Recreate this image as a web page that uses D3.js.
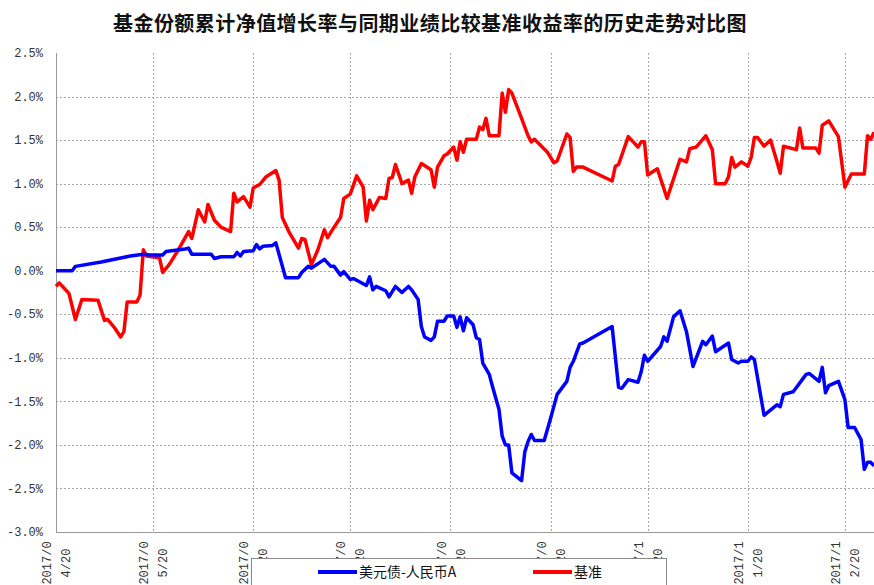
<!DOCTYPE html>
<html><head><meta charset="utf-8">
<script src="https://cdn.jsdelivr.net/npm/d3@7"></script>
<style>
html,body{margin:0;padding:0;background:#fff;}
svg{display:block;}
</style></head>
<body>
<script>
const titleText = "基金份额累计净值增长率与同期业绩比较基准收益率的历史走势对比图";
const seriesNames = ["美元债-人民币A", "基准"];
const seriesColors = ["#0000ff", "#ff0000"];
const yTicks = [2.5, 2.0, 1.5, 1.0, 0.5, 0.0, -0.5, -1.0, -1.5, -2.0, -2.5, -3.0];
const xTickDates = ["2017-04-20","2017-05-20","2017-06-20","2017-07-20","2017-08-20","2017-09-20","2017-10-20","2017-11-20","2017-12-20"];
const xTickLines = [["2017/0","4/20"],["2017/0","5/20"],["2017/0","6/20"],["2017/0","7/20"],["2017/0","8/20"],["2017/0","9/20"],["2017/1","0/20"],["2017/1","1/20"],["2017/1","2/20"]];
const xDomain = ["2017-04-20", "2017-12-29"];

const fundDates = ["04-20","04-25","04-26","05-04","05-13","05-17","05-19","05-23","05-24","05-30","05-31","06-01","06-07","06-08","06-10","06-14","06-15","06-16","06-17","06-20","06-21","06-22","06-23","06-26","06-27","06-30","07-04","07-05","07-07","07-08","07-12","07-14","07-15","07-17","07-18","07-20","07-21","07-25","07-26","07-27","07-28","07-31","08-01","08-03","08-05","08-07","08-08","08-10","08-11","08-12","08-14","08-15","08-16","08-18","08-19","08-21","08-22","08-23","08-24","08-25","08-27","08-28","08-29","08-30","09-01","09-02","09-04","09-05","09-06","09-07","09-08","09-11","09-12","09-13","09-14","09-15","09-18","09-20","09-22","09-25","09-26","09-27","09-29","09-30","10-09","10-11","10-12","10-14","10-17","10-18","10-19","10-20","10-24","10-25","10-26","10-28","10-30","11-01","11-03","11-06","11-07","11-09","11-10","11-14","11-15","11-17","11-18","11-20","11-21","11-22","11-25","11-28","11-29","11-30","12-01","12-04","12-05","12-08","12-09","12-12","12-13","12-14","12-15","12-18","12-20","12-21","12-23","12-25","12-26","12-27","12-28","12-29"];
const fundValues = [0.00,0.00,0.05,0.10,0.17,0.19,0.18,0.18,0.22,0.25,0.26,0.19,0.19,0.14,0.16,0.16,0.21,0.17,0.22,0.23,0.30,0.25,0.28,0.29,0.32,-0.08,-0.08,-0.02,0.05,0.03,0.13,0.05,0.05,-0.05,-0.01,-0.10,-0.09,-0.17,-0.07,-0.22,-0.18,-0.23,-0.30,-0.18,-0.25,-0.18,-0.22,-0.33,-0.64,-0.76,-0.80,-0.76,-0.58,-0.58,-0.52,-0.52,-0.65,-0.53,-0.69,-0.54,-0.62,-0.77,-0.79,-1.06,-1.19,-1.33,-1.59,-1.90,-2.00,-2.00,-2.32,-2.41,-2.08,-1.96,-1.88,-1.95,-1.95,-1.69,-1.42,-1.27,-1.11,-1.04,-0.84,-0.83,-0.64,-1.34,-1.35,-1.25,-1.28,-1.16,-0.97,-1.04,-0.87,-0.76,-0.81,-0.53,-0.46,-0.70,-1.10,-0.81,-0.85,-0.75,-0.93,-0.83,-1.02,-1.06,-1.04,-1.04,-0.99,-1.02,-1.66,-1.57,-1.54,-1.56,-1.42,-1.39,-1.34,-1.19,-1.18,-1.27,-1.11,-1.40,-1.32,-1.27,-1.48,-1.80,-1.80,-1.94,-2.28,-2.20,-2.20,-2.24];

const benchDates = ["04-20","04-21","04-24","04-26","04-28","05-03","05-05","05-06","05-08","05-10","05-11","05-12","05-15","05-16","05-17","05-18","05-22","05-23","05-25","05-28","05-31","06-01","06-03","06-05","06-06","06-08","06-10","06-13","06-14","06-15","06-17","06-19","06-20","06-22","06-24","06-27","06-28","06-29","07-01","07-04","07-05","07-06","07-08","07-10","07-12","07-13","07-15","07-17","07-18","07-20","07-22","07-24","07-25","07-26","07-27","07-29","07-31","08-01","08-02","08-03","08-05","08-07","08-08","08-09","08-11","08-14","08-15","08-16","08-18","08-19","08-21","08-22","08-23","08-24","08-25","08-28","08-29","08-30","08-31","09-01","09-04","09-05","09-06","09-07","09-08","09-11","09-13","09-14","09-15","09-19","09-21","09-22","09-25","09-26","09-27","09-28","09-30","10-09","10-10","10-11","10-14","10-17","10-18","10-19","10-20","10-23","10-26","10-30","11-01","11-02","11-04","11-07","11-09","11-10","11-13","11-14","11-15","11-16","11-18","11-20","11-21","11-22","11-23","11-25","11-27","11-29","11-30","12-01","12-05","12-06","12-07","12-11","12-12","12-13","12-15","12-18","12-20","12-22","12-26","12-27","12-28","12-29"];
const benchValues = [-0.18,-0.14,-0.26,-0.56,-0.33,-0.34,-0.57,-0.56,-0.65,-0.76,-0.70,-0.36,-0.36,-0.28,0.24,0.17,0.15,-0.02,0.07,0.25,0.45,0.37,0.70,0.56,0.76,0.58,0.50,0.45,0.89,0.79,0.85,0.73,0.95,0.99,1.08,1.15,1.04,0.61,0.45,0.26,0.37,0.36,0.07,0.24,0.47,0.38,0.50,0.61,0.83,0.88,1.09,0.96,0.57,0.81,0.70,0.84,0.83,1.06,1.07,1.22,1.00,1.04,0.89,1.08,1.23,1.16,0.96,1.19,1.32,1.34,1.42,1.27,1.48,1.36,1.51,1.51,1.65,1.62,1.75,1.55,1.55,2.04,1.82,2.08,2.04,1.75,1.55,1.48,1.51,1.36,1.24,1.26,1.57,1.53,1.14,1.19,1.19,1.03,1.20,1.22,1.54,1.42,1.48,1.48,1.10,1.17,0.83,1.28,1.25,1.40,1.42,1.55,1.39,1.00,1.00,1.08,1.30,1.19,1.25,1.20,1.30,1.53,1.53,1.43,1.50,1.25,1.12,1.43,1.39,1.64,1.41,1.41,1.35,1.67,1.72,1.54,0.96,1.11,1.11,1.55,1.51,1.59];

const W = 874, H = 585;
const M = {left: 56, right: 874, top: 53, bottom: 532};
const parse = d3.timeParse("%Y-%m-%d");

const svg = d3.select("body").append("svg").attr("width", W).attr("height", H);

const x = d3.scaleTime().domain(xDomain.map(parse)).range([M.left, M.right]);
const y = d3.scaleLinear().domain([-3.0, 2.5]).range([M.bottom, M.top]);

const monoFont = "'Liberation Mono','DejaVu Sans Mono',monospace";
const cjkFont = "'Noto Sans CJK SC','Noto Sans',sans-serif";

// title
svg.append("text").attr("x", 113).attr("y", 31)
  .attr("font-family", cjkFont).attr("font-weight", "bold")
  .attr("font-size", 20).attr("letter-spacing", "0.45px")
  .attr("fill", "#111").text(titleText);

// horizontal gridlines
const gridColor = "#a8a8a8";
svg.append("g").selectAll("line").data(yTicks.filter(t => t !== 2.5 && t !== -3.0)).join("line")
  .attr("x1", M.left).attr("x2", M.right)
  .attr("y1", d => Math.round(y(d)) + 0.5).attr("y2", d => Math.round(y(d)) + 0.5)
  .attr("stroke", gridColor).attr("stroke-dasharray", "2,2").attr("stroke-width", 1);

// vertical gridlines
svg.append("g").selectAll("line").data(xTickDates.slice(1).map(parse)).join("line")
  .attr("x1", d => Math.round(x(d)) + 0.5).attr("x2", d => Math.round(x(d)) + 0.5)
  .attr("y1", M.top).attr("y2", M.bottom)
  .attr("stroke", gridColor).attr("stroke-dasharray", "2,2").attr("stroke-width", 1);

// axes lines
svg.append("line").attr("x1", M.left + 0.5).attr("x2", M.left + 0.5)
  .attr("y1", M.top).attr("y2", M.bottom + 0.5).attr("stroke", "#999");
svg.append("line").attr("x1", M.left).attr("x2", M.right)
  .attr("y1", M.bottom + 0.5).attr("y2", M.bottom + 0.5).attr("stroke", "#999");

// y tick labels
svg.append("g").selectAll("text").data(yTicks).join("text")
  .attr("x", 43).attr("y", d => y(d)).attr("dy", "0.35em")
  .attr("text-anchor", "end").attr("font-family", monoFont).attr("font-size", 12)
  .attr("fill", "#333").text(d => d.toFixed(1) + "%");

// x tick labels (rotated, two lines)
const xl = svg.append("g");
xTickDates.forEach((ds, i) => {
  const px = x(parse(ds));
  xTickLines[i].forEach((ln, j) => {
    const cx = px + (j === 0 ? -9 : 10);
    xl.append("text")
      .attr("transform", `translate(${cx},563) rotate(-90)`)
      .attr("text-anchor", "middle").attr("dy", "0.35em")
      .attr("font-family", monoFont).attr("font-size", 12).attr("fill", "#333")
      .text(ln);
  });
});

// lines
const line = d3.line().x(d => x(d.date)).y(d => y(d.value));
const fund = fundDates.map((d, i) => ({date: parse("2017-" + d), value: fundValues[i]}));
const bench = benchDates.map((d, i) => ({date: parse("2017-" + d), value: benchValues[i]}));
const plot = svg.append("g");
plot.append("path").datum(bench).attr("d", line).attr("fill", "none")
  .attr("stroke", seriesColors[1]).attr("stroke-width", 3.5).attr("stroke-linejoin", "round");
plot.append("path").datum(fund).attr("d", line).attr("fill", "none")
  .attr("stroke", seriesColors[0]).attr("stroke-width", 3.5).attr("stroke-linejoin", "round");

// legend
const lg = svg.append("g");
lg.append("rect").attr("x", 251.5).attr("y", 558.5).attr("width", 415).attr("height", 40)
  .attr("fill", "#fff").attr("stroke", "#888");
const legX = [318, 533];
seriesNames.forEach((n, i) => {
  lg.append("line").attr("x1", legX[i]).attr("x2", legX[i] + 39)
    .attr("y1", 572).attr("y2", 572).attr("stroke", seriesColors[i]).attr("stroke-width", 4);
  lg.append("text").attr("x", legX[i] + 41).attr("y", 572).attr("dy", "0.35em")
    .attr("font-family", cjkFont).attr("font-size", 14).attr("fill", "#111").text(n);
});
</script>
</body></html>
